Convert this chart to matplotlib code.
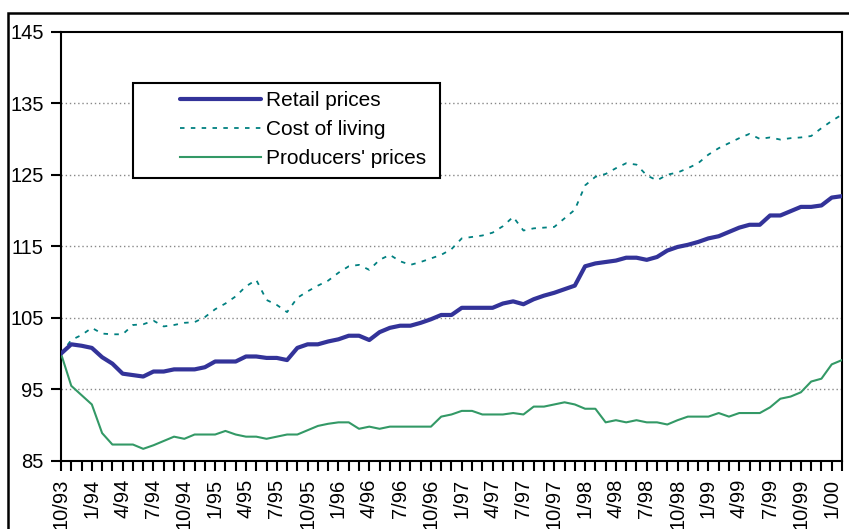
import matplotlib
matplotlib.use("Agg")
import matplotlib.pyplot as plt
from matplotlib.patches import Rectangle
import numpy as np
import pandas as pd

plt.rcParams['font.family'] = ['Liberation Sans', 'DejaVu Sans']

months = [f"{p.month}/{p.year % 100:02d}" for p in pd.period_range('1993-10', '2000-02', freq='M')]

retail = [100.0, 101.3, 101.1, 100.8, 99.5, 98.6, 97.2, 97.0, 96.8, 97.5,
          97.5, 97.8, 97.8, 97.8, 98.1, 98.9, 98.9, 98.9, 99.6, 99.6,
          99.4, 99.4, 99.1, 100.8, 101.3, 101.3, 101.7, 102.0, 102.5, 102.5,
          101.9, 103.0, 103.6, 103.9, 103.9, 104.3, 104.8, 105.4, 105.4, 106.4,
          106.4, 106.4, 106.4, 107.0, 107.3, 106.9, 107.6, 108.1, 108.5, 109.0,
          109.5, 112.2, 112.6, 112.8, 113.0, 113.4, 113.4, 113.1, 113.5, 114.4,
          114.9, 115.2, 115.6, 116.1, 116.4, 117.0, 117.6, 118.0, 118.0, 119.3,
          119.3, 119.9, 120.5, 120.5, 120.7, 121.8, 122.0]

cost_of_living = [100.0, 101.9, 102.6, 103.6, 102.8, 102.7, 102.7, 104.0, 104.1, 104.6,
                  103.8, 104.0, 104.3, 104.4, 105.1, 106.2, 107.0, 108.0, 109.4, 110.3,
                  107.5, 106.8, 105.8, 107.8, 108.7, 109.5, 110.2, 111.3, 112.2, 112.4,
                  111.7, 113.1, 113.8, 112.9, 112.4, 112.8, 113.3, 113.8, 114.6, 116.1,
                  116.3, 116.5, 116.9, 117.8, 119.1, 117.2, 117.5, 117.6, 117.7, 118.9,
                  120.1, 123.5, 124.7, 125.1, 125.9, 126.6, 126.4, 124.9, 124.2, 125.0,
                  125.3, 125.9, 126.6, 127.8, 128.7, 129.4, 130.1, 130.7, 130.0, 130.2,
                  129.9, 130.1, 130.2, 130.4, 131.5, 132.5, 133.4]

producers = [100.0, 95.5, 94.2, 92.9, 88.9, 87.3, 87.3, 87.3, 86.7, 87.2,
             87.8, 88.4, 88.1, 88.7, 88.7, 88.7, 89.2, 88.7, 88.4, 88.4,
             88.1, 88.4, 88.7, 88.7, 89.3, 89.9, 90.2, 90.4, 90.4, 89.5,
             89.8, 89.5, 89.8, 89.8, 89.8, 89.8, 89.8, 91.2, 91.5, 92.0,
             92.0, 91.5, 91.5, 91.5, 91.7, 91.5, 92.6, 92.6, 92.9, 93.2,
             92.9, 92.3, 92.3, 90.4, 90.7, 90.4, 90.7, 90.4, 90.4, 90.1,
             90.7, 91.2, 91.2, 91.2, 91.7, 91.2, 91.7, 91.7, 91.7, 92.5,
             93.7, 94.0, 94.6, 96.1, 96.5, 98.5, 99.1]

series_names = ["Retail prices", "Cost of living", "Producers' prices"]
y_ticks = [85, 95, 105, 115, 125, 135, 145]

fig = plt.figure(figsize=(8.49, 5.29), dpi=100)
ax = fig.add_axes([61/849, 1-461/529, (842-61)/849, (461-31.5)/529])

x = np.arange(len(months))
l1, = ax.plot(x, retail, color='#333399', lw=3.0, solid_capstyle='round', solid_joinstyle='round', zorder=4)
l2, = ax.plot(x, cost_of_living, color='#008080', lw=1.3, dashes=(2.5, 3.5), zorder=3)
l3, = ax.plot(x, producers, color='#339966', lw=1.5, zorder=3)

ax.set_xlim(0, len(months) - 1)
ax.set_ylim(85, 145)
ax.set_yticks(y_ticks)
ax.set_yticklabels([str(v) for v in y_ticks])

major = x[::3]
ax.set_xticks(major)
ax.set_xticklabels([months[i] for i in major], rotation=90, va='top', ha='center')
ax.set_xticks(x, minor=True)

ax.tick_params(axis='x', which='both', direction='out', length=7, width=1.5, pad=6, labelsize=14.5)
ax.tick_params(axis='y', which='both', direction='out', length=7, width=1.5, pad=5.5, labelsize=14.5)

for v in y_ticks[1:-1]:
    ax.axhline(v, color='#888888', lw=1.0, ls=(0, (1, 2)), zorder=1)

for s in ax.spines.values():
    s.set_linewidth(1.5)
    s.set_color('black')

# legend frame (drawn manually for Excel-like padding)
lx0 = (133-61)/781
lx1 = (440-61)/781
ly0 = (461-178)/429.5
ly1 = (461-83)/429.5
ax.add_patch(Rectangle((lx0, ly0), lx1-lx0, ly1-ly0, transform=ax.transAxes,
                       facecolor='white', edgecolor='black', lw=1.5, zorder=5))
leg = ax.legend([l1, l2, l3], series_names, loc='upper left',
                bbox_to_anchor=((180-61)/781, (461-91)/429.5),
                frameon=False, borderpad=0, borderaxespad=0,
                handlelength=3.9, handletextpad=0.25, labelspacing=0.48,
                fontsize=15)
leg.set_zorder(6)

# outer chart border
fig.patches.append(Rectangle((8/849, -0.2), 1.2, 1-13/529+0.2, transform=fig.transFigure,
                             fill=False, edgecolor='black', lw=1.8, clip_on=False))

fig.savefig('out.png', dpi=100)
